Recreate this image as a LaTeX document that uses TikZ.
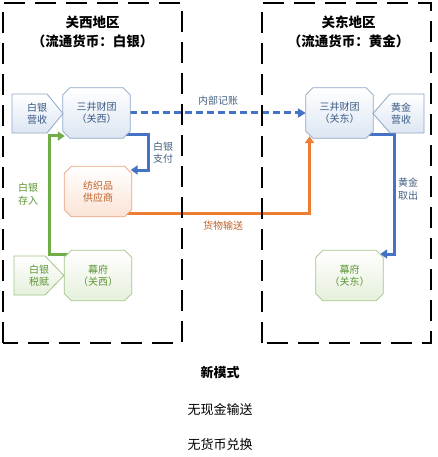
\documentclass[tikz,border=0pt]{standalone}
\usepackage{fontspec}
\setmainfont{Noto Sans CJK SC}
\usetikzlibrary{arrows.meta,backgrounds,calc}
\definecolor{bnode}{HTML}{8EA6C6}
\definecolor{bfill}{HTML}{DCE6F2}
\definecolor{btext}{HTML}{3B5A85}
\definecolor{lbl}{HTML}{44607F}
\definecolor{gnode}{HTML}{A3C58A}
\definecolor{gfill}{HTML}{E6F0DC}
\definecolor{gtext}{HTML}{5E9636}
\definecolor{onode}{HTML}{E9A37E}
\definecolor{ofill}{HTML}{FBE3D6}
\definecolor{otext}{HTML}{C0622A}
\definecolor{bline}{HTML}{4472C4}
\definecolor{gline}{HTML}{70AD47}
\definecolor{oline}{HTML}{ED7D31}
\newcommand{\octoshape}[2]{\path[#2] ($(#1.north west)+(7pt,0)$) -- ($(#1.north east)+(-7pt,0)$) -- ($(#1.north east)+(0,-7pt)$) -- ($(#1.south east)+(0,7pt)$) -- ($(#1.south east)+(-7pt,0)$) -- ($(#1.south west)+(7pt,0)$) -- ($(#1.south west)+(0,7pt)$) -- ($(#1.north west)+(0,-7pt)$) -- cycle;}
\tikzset{
  box/.style={rectangle, minimum width=67pt, minimum height=50pt, align=center, inner sep=0pt, font=\fontsize{10}{12.5}\selectfont},
  bluebox/.style={box, text=btext},
  greenbox/.style={box, text=gtext},
  orangebox/.style={box, text=otext},
  bshape/.style={draw=bnode, line width=0.8pt, top color=white, bottom color=bfill},
  gshape/.style={draw=gnode, line width=0.8pt, top color=white, bottom color=gfill},
  oshape/.style={draw=onode, line width=0.8pt, top color=white, bottom color=ofill},
  tagtext/.style={align=center, inner sep=0pt, font=\fontsize{10}{12.5}\selectfont},
  conn/.style={line width=3pt, -{Triangle[length=7pt,width=9pt]}},
  region/.style={draw=black, line width=2.6pt, dash pattern=on 21pt off 10pt},
  title/.style={align=center, font=\bfseries\fontsize{13.5}{19}\selectfont},
  lab/.style={align=center, inner sep=0pt, font=\fontsize{10}{12.5}\selectfont},
  foot/.style={inner sep=0pt, font=\fontsize{13}{15}\selectfont}
}
\begin{document}
\begin{tikzpicture}[x=1pt,y=-1pt]
\useasboundingbox (0,0) rectangle (437,457);
% nodes
\node[bluebox] (mx) at (96.5,113) {三井财团\\（关西）};
\node[orangebox] (tx) at (98,191.5) {纺织品\\供应商};
\node[greenbox] (mf) at (98,275.5) {幕府\\（关西）};
\node[bluebox] (mk) at (339.5,113) {三井财团\\（关东）};
\node[greenbox] (mg) at (349.5,275.5) {幕府\\（关东）};
% tag texts
\node[tagtext, text=btext] (sy) at (37,113.5) {白银\\营收};
\node[tagtext, text=gtext] (ss) at (39,275.5) {白银\\税赋};
\node[tagtext, text=btext] (hy) at (401,113.5) {黄金\\营收};
\begin{pgfonlayer}{background}
\fill[white] (0,0) rectangle (437,457);
% connectors
\draw[conn, draw=bline] ([yshift=-22pt]mx.center) -- ([xshift=18pt,yshift=-22pt]mx.east) |- ([xshift=-1pt,yshift=21.5pt]tx.east);
\draw[conn, draw=gline] ([yshift=21.5pt]mf.center) -- ([xshift=-14.5pt,yshift=21.5pt]mf.west) |- ([xshift=2pt,yshift=-23pt]mx.west);
\draw[conn, draw=oline] ([yshift=-21.5pt]tx.center) -| ([xshift=-30pt,yshift=2pt]mk.south);
\draw[conn, draw=bline] ([yshift=-22pt]mk.center) -- ([xshift=21pt,yshift=-22pt]mk.east) |- ([xshift=-3pt,yshift=21.5pt]mg.east);
\draw[line width=3pt, draw=bline, dash pattern=on 7pt off 4pt, -{Triangle[length=8pt,width=9pt]}] (mx.east) -- (mk.west);
% node shapes
\octoshape{mx}{bshape}
\octoshape{mk}{bshape}
\octoshape{tx}{oshape}
\octoshape{mf}{gshape}
\octoshape{mg}{gshape}
% tags
\path[bshape] (12,94) -- (47,94) -- (63,113.5) -- (47,133) -- (12,133) -- cycle;
\path[gshape] (14,256) -- (45,256) -- (64,275.5) -- (45,295) -- (14,295) -- cycle;
\path[bshape] (424,94) -- (390,94) -- (373,113.5) -- (390,133) -- (424,133) -- cycle;
\end{pgfonlayer}
% labels
\node[lab, text=lbl] (l1) at (218,101) {内部记账};
\node[lab, text=lbl] (l2) at (163,152.5) {白银\\支付};
\node[lab, text=gtext] (l3) at (28,194) {白银\\存入};
\node[lab, text=otext] (l4) at (223,226) {货物输送};
\node[lab, text=lbl] (l5) at (408,189) {黄金\\取出};
% regions
\draw[region] (3,343) -- (3,3) -- (182,3) -- (182,343) -- cycle;
\draw[region] (262,343) -- (262,3) -- (431,3) -- (431,343) -- cycle;
\node[title] (t1) at (92.5,31.5) {关西地区\\（流通货币：白银）};
\node[title] (t2) at (348.5,31.5) {关东地区\\（流通货币：黄金）};
% footer
\node[foot, font=\bfseries\fontsize{13}{15}\selectfont] (f1) at (220,373) {新模式};
\node[foot] (f2) at (220,410) {无现金输送};
\node[foot] (f3) at (220,445) {无货币兑换};
\end{tikzpicture}
\end{document}
